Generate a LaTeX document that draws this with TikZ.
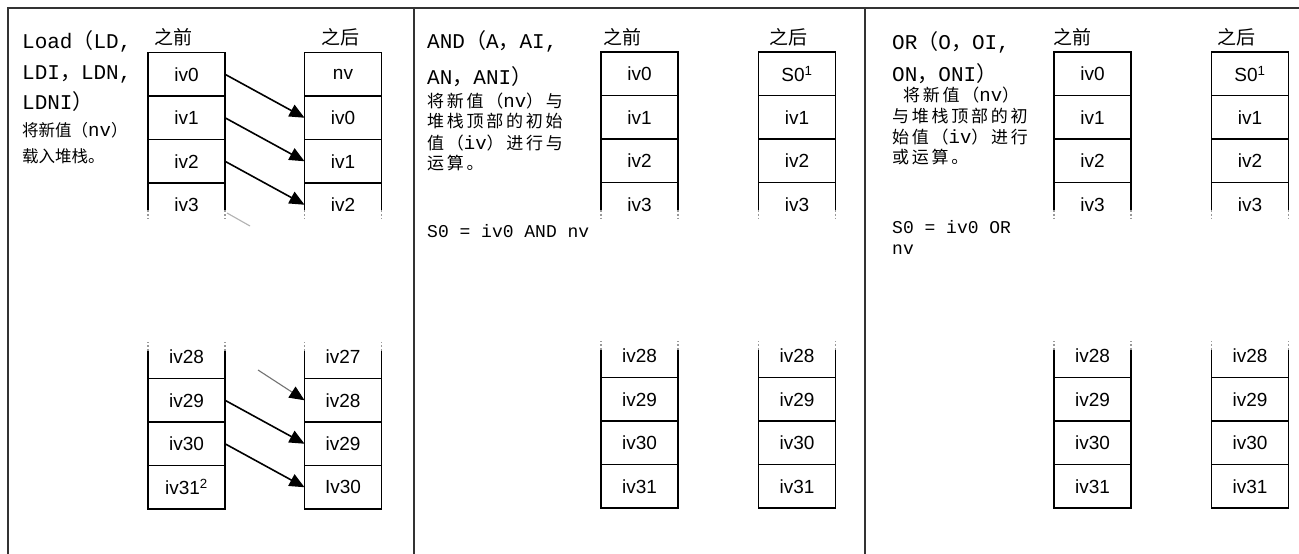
\documentclass[tikz,border=0pt]{standalone}
\usepackage{fontspec}
\setmonofont{Liberation Mono}
\setsansfont{Liberation Sans}
\newfontfamily\zhfont{Noto Sans CJK SC}
\newfontfamily\zhwide{Noto Sans CJK SC}[LetterSpace=16]
\usetikzlibrary{arrows.meta,positioning}
\newcommand\zhc[1]{{\zhfont #1}}
\newcommand\entt[1]{{\ttfamily\fontsize{19}{19}\selectfont #1}}

\begin{document}
\begin{tikzpicture}[
    x=1pt, y=-1pt,
    frame/.style={line width=2.2pt, draw=black!80},
    cell/.style={draw, line width=1.6pt, minimum width=77pt, minimum height=43.5pt, inner sep=0pt, outer sep=0pt, font=\sffamily\fontsize{19}{19}\selectfont},
    opencell/.style={cell, draw=none},
    side/.style={line width=1.6pt},
    fadeside/.style={line width=1.2pt, draw=black!40, dash pattern=on 2pt off 2pt},
    tag/.style={font=\zhfont\fontsize{19}{19}\selectfont, inner sep=0pt, anchor=west},
    title/.style={font=\ttfamily\fontsize{21}{21}\selectfont, inner sep=0pt, anchor=base west},
    note/.style={font=\zhwide\fontsize{17}{17}\selectfont, inner sep=0pt, anchor=base west},
    smallnote/.style={note, font=\zhfont\fontsize{16.5}{16.5}\selectfont},
    formula/.style={font=\ttfamily\fontsize{18}{18}\selectfont, inner sep=0pt, anchor=base west},
    flow/.style={-{Triangle[length=15pt,width=13pt]}, line width=1.6pt},
    tailflow/.style={-{Triangle[length=15pt,width=13pt,color=black]}, line width=1.1pt, draw=black!55},
    fadeflow/.style={line width=1.1pt, draw=black!30}
]
\useasboundingbox (0,0) rectangle (1299,554);
\fill[white] (0,0) rectangle (1299,554);

% frame and panel dividers
\draw[frame] (8,8) rectangle (1312,570);
\draw[frame] (414,8) -- (414,570);
\draw[frame] (865,8) -- (865,570);

% Load panel
\node[title] (ldt1) at (22,48) {Load\zhc{（}LD,};
\node[title] (ldt2) at (22,79) {LDI\zhc{，}LDN,};
\node[title] (ldt3) at (22,109) {LDNI\zhc{）}};
\node[smallnote] (ldn1) at (22,136) {将新值（\entt{nv}）};
\node[smallnote] (ldn2) at (22,162) {载入堆栈。};

\node[cell] (ldb0) at (186.5,74.25) {iv0};
\node[cell, below=0pt of ldb0] (ldb1) {iv1};
\node[cell, below=0pt of ldb1] (ldb2) {iv2};
\node[opencell, below=0pt of ldb2] (ldb3) {iv3};
\node[cell] (ldb31) at (186.5,487.25) {iv31\textsuperscript{2}};
\node[cell, above=0pt of ldb31] (ldb30) {iv30};
\node[cell, above=0pt of ldb30] (ldb29) {iv29};
\node[opencell, above=0pt of ldb29] (ldb28) {iv28};

\node[cell] (lda0) at (343,74.25) {nv};
\node[cell, below=0pt of lda0] (lda1) {iv0};
\node[cell, below=0pt of lda1] (lda2) {iv1};
\node[opencell, below=0pt of lda2] (lda3) {iv2};
\node[cell] (lda30) at (343,487.25) {Iv30};
\node[cell, above=0pt of lda30] (lda29) {iv29};
\node[cell, above=0pt of lda29] (lda28) {iv28};
\node[opencell, above=0pt of lda28] (lda27) {iv27};

\node[tag] (ldpre) at ([xshift=6pt,yshift=15pt]ldb0.north west) {之前};
\node[tag] (ldpost) at ([xshift=17pt,yshift=15pt]lda0.north west) {之后};

\draw[flow] (ldb0.east) -- (lda1.west);
\draw[flow] (ldb1.east) -- (lda2.west);
\draw[flow] (ldb2.east) -- (lda3.west);
\draw[flow] (ldb29.east) -- (lda29.west);
\draw[flow] (ldb30.east) -- (lda30.west);
\coordinate (ldtail) at (258,370);
\draw[tailflow] (ldtail) -- (lda28.west);
\coordinate (ldfade0) at (227,213);
\coordinate (ldfade1) at (250,226);
\draw[fadeflow] (ldfade0) -- (ldfade1);

% AND panel
\node[title] (ant1) at (427,48) {AND\zhc{（}A\zhc{，}AI,};
\node[title] (ant2) at (427,84) {AN\zhc{，}ANI\zhc{）}};
\node[note] (ann1) at (427,107) {将新值（\entt{nv}）与};
\node[note] (ann2) at (427,127.5) {堆栈顶部的初始};
\node[note] (ann3) at (427,149) {值（\entt{iv}）进行与};
\node[note] (ann4) at (427,169.5) {运算。};
\node[formula] (anf) at (427,237.5) {S0 = iv0 AND nv};

\node[cell] (anb0) at (639.5,73.75) {iv0};
\node[cell, below=0pt of anb0] (anb1) {iv1};
\node[cell, below=0pt of anb1] (anb2) {iv2};
\node[opencell, below=0pt of anb2] (anb3) {iv3};
\node[cell] (anb31) at (639.5,486.25) {iv31};
\node[cell, above=0pt of anb31] (anb30) {iv30};
\node[cell, above=0pt of anb30] (anb29) {iv29};
\node[opencell, above=0pt of anb29] (anb28) {iv28};

\node[cell] (ana0) at (797,73.75) {S0\textsuperscript{1}};
\node[cell, below=0pt of ana0] (ana1) {iv1};
\node[cell, below=0pt of ana1] (ana2) {iv2};
\node[opencell, below=0pt of ana2] (ana3) {iv3};
\node[cell] (ana31) at (797,486.25) {iv31};
\node[cell, above=0pt of ana31] (ana30) {iv30};
\node[cell, above=0pt of ana30] (ana29) {iv29};
\node[opencell, above=0pt of ana29] (ana28) {iv28};

\node[tag] (anpre) at ([xshift=2pt,yshift=15pt]anb0.north west) {之前};
\node[tag] (anpost) at ([xshift=11pt,yshift=15pt]ana0.north west) {之后};

% OR panel
\node[title] (ort1) at (892,49) {OR\zhc{（}O\zhc{，}OI,};
\node[title] (ort2) at (892,81) {ON\zhc{，}ONI\zhc{）}};
\node[note] (orn1) at (903,101.5) {将新值（\entt{nv}）};
\node[note] (orn2) at (892,122) {与堆栈顶部的初};
\node[note] (orn3) at (892,143.5) {始值（\entt{iv}）进行};
\node[note] (orn4) at (892,163) {或运算。};
\node[formula] (orf1) at (892,233.5) {S0 = iv0 OR};
\node[formula] (orf2) at (892,254.5) {nv};

\node[cell] (orb0) at (1092.5,73.75) {iv0};
\node[cell, below=0pt of orb0] (orb1) {iv1};
\node[cell, below=0pt of orb1] (orb2) {iv2};
\node[opencell, below=0pt of orb2] (orb3) {iv3};
\node[cell] (orb31) at (1092.5,486.25) {iv31};
\node[cell, above=0pt of orb31] (orb30) {iv30};
\node[cell, above=0pt of orb30] (orb29) {iv29};
\node[opencell, above=0pt of orb29] (orb28) {iv28};

\node[cell] (ora0) at (1250,73.75) {S0\textsuperscript{1}};
\node[cell, below=0pt of ora0] (ora1) {iv1};
\node[cell, below=0pt of ora1] (ora2) {iv2};
\node[opencell, below=0pt of ora2] (ora3) {iv3};
\node[cell] (ora31) at (1250,486.25) {iv31};
\node[cell, above=0pt of ora31] (ora30) {iv30};
\node[cell, above=0pt of ora30] (ora29) {iv29};
\node[opencell, above=0pt of ora29] (ora28) {iv28};

\node[tag] (orpre) at ([xshift=-1pt,yshift=15pt]orb0.north west) {之前};
\node[tag] (orpost) at ([xshift=6pt,yshift=15pt]ora0.north west) {之后};

% open ends of the stacks
\foreach \c in {ldb3,lda3,anb3,ana3,orb3,ora3} {
  \draw[side] (\c.north west) -- ++(0,27) (\c.north east) -- ++(0,27);
  \draw[fadeside] ([yshift=-27pt]\c.north west) -- ++(0,9) ([yshift=-27pt]\c.north east) -- ++(0,9);
}
\foreach \c in {ldb28,lda27,anb28,ana28,orb28,ora28} {
  \draw[side] (\c.south west) -- ++(0,-28) (\c.south east) -- ++(0,-28);
  \draw[fadeside] ([yshift=28pt]\c.south west) -- ++(0,-9) ([yshift=28pt]\c.south east) -- ++(0,-9);
}
\end{tikzpicture}
\end{document}
